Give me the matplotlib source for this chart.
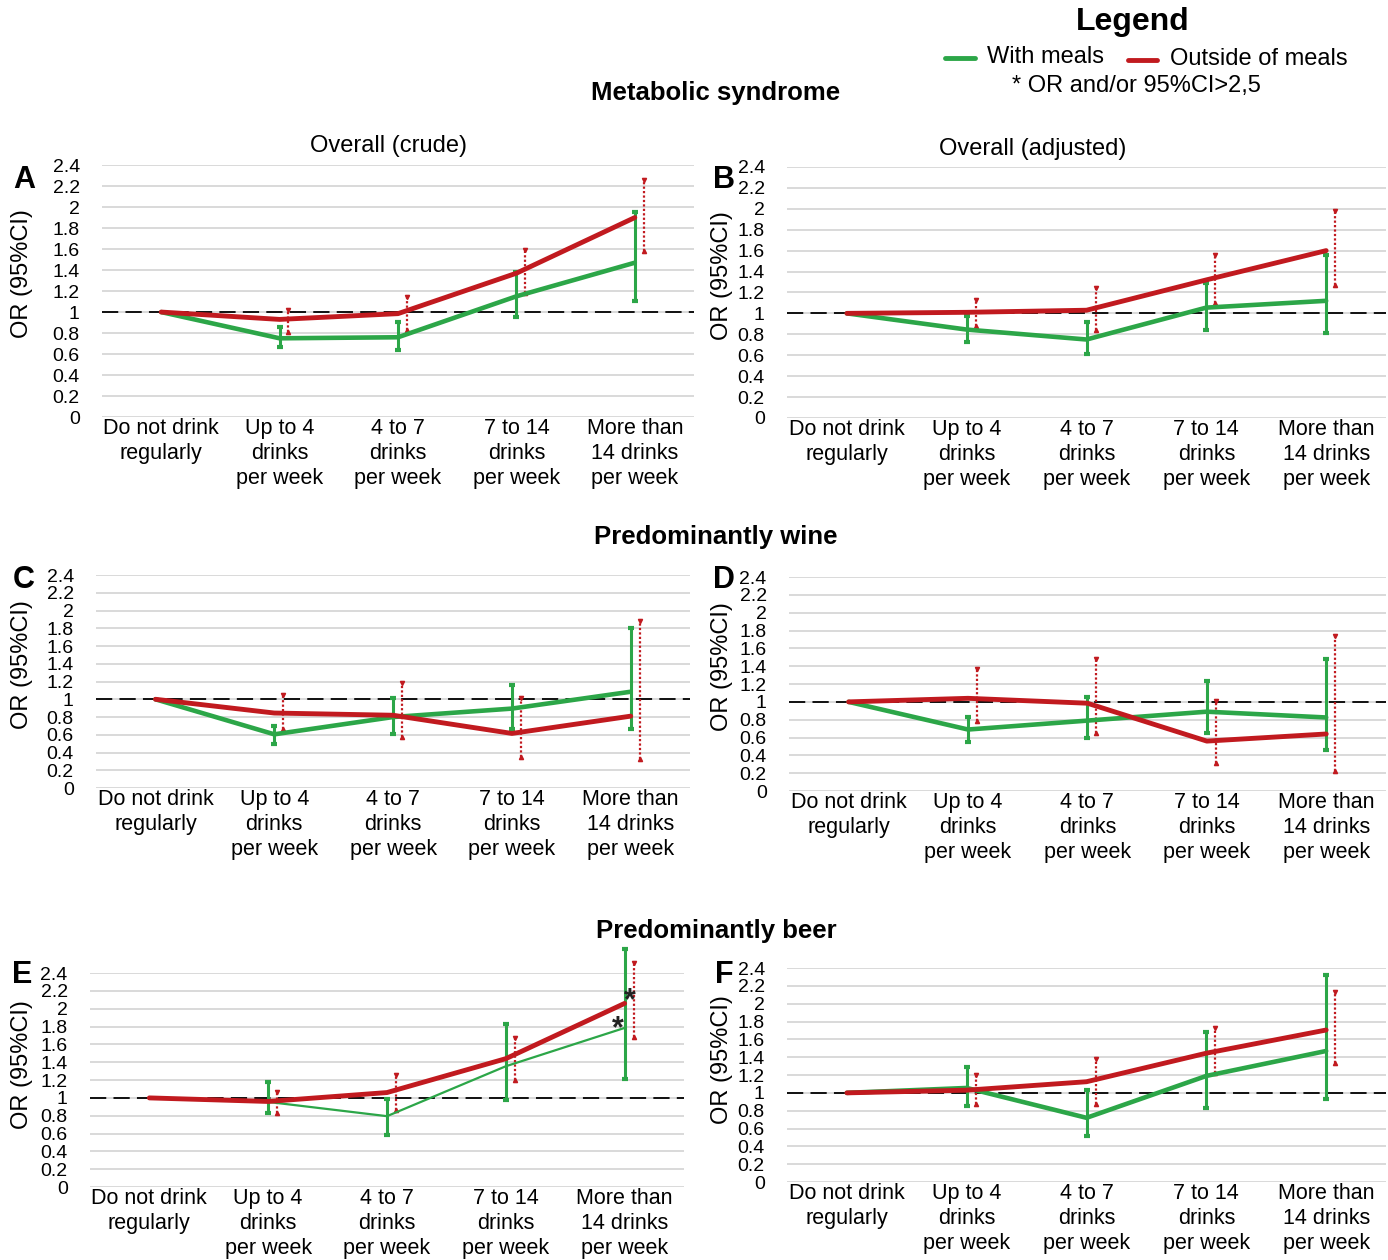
import numpy as np
import matplotlib.pyplot as plt
from matplotlib.lines import Line2D

plt.rcParams["font.family"] = ["Liberation Sans", "DejaVu Sans"]

GREEN = "#2ca648"
RED = "#c11a1f"
GRID = "#d9d9d9"
W, H = 1388, 1260

categories = [
    "Do not drink\nregularly",
    "Up to 4\ndrinks\nper week",
    "4 to 7\ndrinks\nper week",
    "7 to 14\ndrinks\nper week",
    "More than\n14 drinks\nper week",
]
y_ticks = [0, 0.2, 0.4, 0.6, 0.8, 1, 1.2, 1.4, 1.6, 1.8, 2, 2.2, 2.4]
y_tick_labels = ["0", "0.2", "0.4", "0.6", "0.8", "1", "1.2", "1.4",
                 "1.6", "1.8", "2", "2.2", "2.4"]

# A - metabolic syndrome, crude
a_with = [1.0, 0.75, 0.76, 1.15, 1.47]
a_with_lo = [np.nan, 0.67, 0.64, 0.95, 1.11]
a_with_hi = [np.nan, 0.86, 0.91, 1.38, 1.95]
a_out = [1.0, 0.93, 0.985, 1.37, 1.90]
a_out_lo = [np.nan, 0.81, 0.83, 1.18, 1.58]
a_out_hi = [np.nan, 1.02, 1.14, 1.59, 2.26]

# B - metabolic syndrome, adjusted
b_with = [1.0, 0.845, 0.75, 1.055, 1.12]
b_with_lo = [np.nan, 0.73, 0.61, 0.845, 0.81]
b_with_hi = [np.nan, 0.97, 0.915, 1.29, 1.56]
b_out = [1.0, 1.01, 1.03, 1.32, 1.60]
b_out_lo = [np.nan, 0.875, 0.845, 1.10, 1.275]
b_out_hi = [np.nan, 1.13, 1.24, 1.56, 1.98]

# C - predominantly wine, crude
c_with = [1.0, 0.605, 0.80, 0.895, 1.085]
c_with_lo = [np.nan, 0.50, 0.61, 0.67, 0.66]
c_with_hi = [np.nan, 0.70, 1.01, 1.16, 1.80]
c_out = [1.0, 0.845, 0.82, 0.615, 0.81]
c_out_lo = [np.nan, 0.66, 0.575, 0.35, 0.33]
c_out_hi = [np.nan, 1.045, 1.18, 1.02, 1.88]

# D - predominantly wine, adjusted
d_with = [1.0, 0.69, 0.79, 0.89, 0.825]
d_with_lo = [np.nan, 0.555, 0.59, 0.65, 0.455]
d_with_hi = [np.nan, 0.835, 1.05, 1.23, 1.48]
d_out = [1.0, 1.04, 0.985, 0.56, 0.64]
d_out_lo = [np.nan, 0.79, 0.655, 0.31, 0.23]
d_out_hi = [np.nan, 1.365, 1.485, 1.015, 1.74]

# E - predominantly beer, crude
e_with = [1.0, 0.955, 0.795, 1.355, 1.785]
e_with_lo = [np.nan, 0.83, 0.585, 0.98, 1.215]
e_with_hi = [np.nan, 1.18, 0.99, 1.83, 2.67]
e_out = [1.0, 0.96, 1.06, 1.44, 2.06]
e_out_lo = [np.nan, 0.83, 0.86, 1.205, 1.68]
e_out_hi = [np.nan, 1.07, 1.26, 1.675, 2.51]

# F - predominantly beer, adjusted
f_with = [1.0, 1.055, 0.72, 1.19, 1.47]
f_with_lo = [np.nan, 0.855, 0.515, 0.825, 0.93]
f_with_hi = [np.nan, 1.29, 1.03, 1.68, 2.325]
f_out = [1.0, 1.03, 1.125, 1.445, 1.705]
f_out_lo = [np.nan, 0.875, 0.88, 1.22, 1.34]
f_out_hi = [np.nan, 1.20, 1.385, 1.725, 2.135]


def px_text(fig, x, y, s, **kw):
    fig.text(x / W, 1 - y / H, s, **kw)


def draw_panel(ax, w, w_lo, w_hi, r, r_lo, r_hi, green_lw=3.3):
    x = np.arange(len(categories))
    ax.set_xlim(-0.5, len(categories) - 0.5)
    ax.set_ylim(0, 2.4)
    ax.set_yticks(y_ticks, y_tick_labels, fontsize=14)
    ax.set_xticks(x, categories, fontsize=15.5, linespacing=1.25)
    ax.tick_params(length=0, pad=1)
    ax.tick_params(axis="y", pad=16)
    for sp in ax.spines.values():
        sp.set_visible(False)
    ax.yaxis.grid(True, color=GRID, lw=1.4)
    ax.set_axisbelow(True)
    ax.axhline(1, color="black", lw=1.3, dashes=(9, 4), zorder=2)

    # green CI: solid with square caps
    ax.errorbar(x, w, yerr=[np.array(w) - np.array(w_lo), np.array(w_hi) - np.array(w)],
                fmt="none", ecolor=GREEN, elinewidth=2.2, capsize=2.5, capthick=3,
                zorder=3, clip_on=False)
    # red CI: dotted, shifted slightly right
    xr = x + 0.075
    ax.vlines(xr, r_lo, r_hi, colors=RED, linestyles=(0, (1, 1)), lw=1.6, zorder=3,
              clip_on=False)
    ax.plot(xr, r_hi, ls="none", marker="v", ms=3, color=RED, zorder=3, clip_on=False)
    ax.plot(xr, r_lo, ls="none", marker="^", ms=3, color=RED, zorder=3, clip_on=False)

    ax.plot(x, w, color=GREEN, lw=green_lw, solid_capstyle="round", zorder=4,
            clip_on=False)
    ax.plot(x, r, color=RED, lw=3.5, solid_capstyle="round", zorder=5, clip_on=False)


fig = plt.figure(figsize=(W / 100, H / 100), dpi=100)

panels = [
    ("A", [0.0735, 0.669, 0.4265, 0.200], (a_with, a_with_lo, a_with_hi, a_out, a_out_lo, a_out_hi), 3.3),
    ("B", [0.567, 0.6683, 0.4316, 0.1992], (b_with, b_with_lo, b_with_hi, b_out, b_out_lo, b_out_hi), 3.3),
    ("C", [0.0692, 0.3746, 0.428, 0.1690], (c_with, c_with_lo, c_with_hi, c_out, c_out_lo, c_out_hi), 3.3),
    ("D", [0.5684, 0.3722, 0.4301, 0.1698], (d_with, d_with_lo, d_with_hi, d_out, d_out_lo, d_out_hi), 3.3),
    ("E", [0.0648, 0.0579, 0.428, 0.1698], (e_with, e_with_lo, e_with_hi, e_out, e_out_lo, e_out_hi), 1.6),
    ("F", [0.567, 0.0619, 0.4316, 0.1698], (f_with, f_with_lo, f_with_hi, f_out, f_out_lo, f_out_hi), 3.3),
]

axes = {}
for letter, rect, data, glw in panels:
    ax = fig.add_axes(rect)
    draw_panel(ax, *data, green_lw=glw)
    axes[letter] = ax

# asterisks in panel E
axes["E"].text(4.04, 2.08, "*", fontsize=22, fontweight="bold", ha="center", va="center",
               color="#222222", zorder=6)
axes["E"].text(3.94, 1.77, "*", fontsize=22, fontweight="bold", ha="center", va="center",
               color="#222222", zorder=6)

# panel letters and y labels
letter_pos = {"A": (24, 180), "B": (724, 180), "C": (24, 580),
              "D": (724, 580), "E": (22, 975), "F": (724, 975)}
ylabel_pos = {"A": (22, 274), "B": (722, 276), "C": (22, 665),
              "D": (722, 667), "E": (22, 1065), "F": (722, 1060)}
for letter in letter_pos:
    lx, ly = letter_pos[letter]
    px_text(fig, lx, ly, letter, fontsize=22, fontweight="bold", ha="center", va="center")
    yx, yy = ylabel_pos[letter]
    px_text(fig, yx, yy, "OR (95%CI)", fontsize=17, rotation=90, ha="center", va="center")

# section titles
px_text(fig, 716, 93, "Metabolic syndrome", fontsize=18.5, fontweight="bold", ha="center", va="center")
px_text(fig, 388, 146, "Overall (crude)", fontsize=17, ha="center", va="center")
px_text(fig, 1033, 149, "Overall (adjusted)", fontsize=17, ha="center", va="center")
px_text(fig, 716, 537, "Predominantly wine", fontsize=18.5, fontweight="bold", ha="center", va="center")
px_text(fig, 716, 931, "Predominantly beer", fontsize=18.5, fontweight="bold", ha="center", va="center")

# legend
px_text(fig, 1133, 22, "Legend", fontsize=23, fontweight="bold", ha="center", va="center")
fig.add_artist(Line2D([945 / W, 975 / W], [1 - 58 / H, 1 - 58 / H], color=GREEN, lw=3.5,
                      solid_capstyle="round"))
px_text(fig, 987, 57, "With meals", fontsize=17, ha="left", va="center")
fig.add_artist(Line2D([1128 / W, 1157 / W], [1 - 60 / H, 1 - 60 / H], color=RED, lw=3.5,
                      solid_capstyle="round"))
px_text(fig, 1170, 59, "Outside of meals", fontsize=17, ha="left", va="center")
px_text(fig, 1136, 86, "* OR and/or 95%CI>2,5", fontsize=17, ha="center", va="center")

fig.savefig("out.png", dpi=100)
